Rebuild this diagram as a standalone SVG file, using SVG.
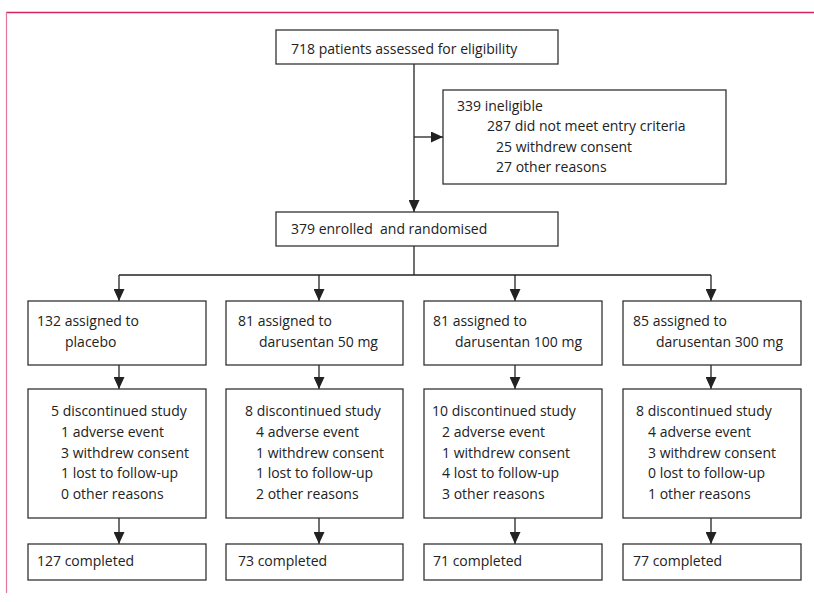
<svg xmlns="http://www.w3.org/2000/svg" width="814" height="602" viewBox="0 0 814 602">
<style>
.box{fill:#fff;stroke:#333;stroke-width:1.3}
.t{font-family:"Open Sans","Liberation Sans",sans-serif;font-size:14px;fill:#222}
.ln{fill:none;stroke:#222;stroke-width:1.3}
</style>
<defs>
<marker id="ah" viewBox="0 0 12 11" refX="12" refY="5.5" markerWidth="12" markerHeight="11" markerUnits="userSpaceOnUse" orient="auto">
<path d="M0,0 L12,5.5 L0,11 Z" fill="#222"/>
</marker>
</defs>
<rect width="814" height="602" fill="#fff"/>
<g id="frame">
<line x1="6" y1="12.5" x2="814" y2="12.5" stroke="#d0245a" stroke-width="1.5"/>
<line x1="6.5" y1="12" x2="6.5" y2="593" stroke="#e07a98" stroke-width="1.2"/>
</g>
<g id="connectors">
<line class="ln" x1="414" y1="64" x2="414" y2="212" marker-end="url(#ah)"/>
<line class="ln" x1="414" y1="137" x2="443" y2="137" marker-end="url(#ah)"/>
<polyline class="ln" points="414,246 414,275"/>
<line class="ln" x1="119" y1="275" x2="711" y2="275"/>
<line class="ln" x1="119" y1="275" x2="119" y2="301" marker-end="url(#ah)"/>
<line class="ln" x1="319" y1="275" x2="319" y2="301" marker-end="url(#ah)"/>
<line class="ln" x1="515" y1="275" x2="515" y2="301" marker-end="url(#ah)"/>
<line class="ln" x1="711" y1="275" x2="711" y2="301" marker-end="url(#ah)"/>
<line class="ln" x1="119" y1="365" x2="119" y2="389" marker-end="url(#ah)"/>
<line class="ln" x1="319" y1="365" x2="319" y2="389" marker-end="url(#ah)"/>
<line class="ln" x1="515" y1="365" x2="515" y2="389" marker-end="url(#ah)"/>
<line class="ln" x1="711" y1="365" x2="711" y2="389" marker-end="url(#ah)"/>
<line class="ln" x1="119" y1="518" x2="119" y2="544" marker-end="url(#ah)"/>
<line class="ln" x1="319" y1="518" x2="319" y2="544" marker-end="url(#ah)"/>
<line class="ln" x1="515" y1="518" x2="515" y2="544" marker-end="url(#ah)"/>
<line class="ln" x1="711" y1="518" x2="711" y2="544" marker-end="url(#ah)"/>
</g>
<g id="assessed">
<rect class="box" x="276" y="30" width="282" height="34"/>
<text class="t" x="291" y="54">718 patients assessed for eligibility</text>
</g>
<g id="ineligible">
<rect class="box" x="443" y="90" width="283" height="94"/>
<text class="t" x="457" y="111">339 ineligible</text>
<text class="t" x="487" y="131">287 did not meet entry criteria</text>
<text class="t" x="496" y="152">25 withdrew consent</text>
<text class="t" x="496" y="172">27 other reasons</text>
</g>
<g id="enrolled">
<rect class="box" x="276" y="212" width="282" height="34"/>
<text class="t" x="291" y="234" style="white-space:pre">379 enrolled  and randomised</text>
</g>
<g id="arm-placebo">
<rect class="box" x="28" y="301" width="178" height="64"/>
<text class="t" x="37" y="326">132 assigned to</text>
<text class="t" x="65" y="347">placebo</text>
</g>
<g id="arm-50">
<rect class="box" x="226" y="301" width="177" height="64"/>
<text class="t" x="238" y="326">81 assigned to</text>
<text class="t" x="259" y="347">darusentan 50 mg</text>
</g>
<g id="arm-100">
<rect class="box" x="424" y="301" width="178" height="64"/>
<text class="t" x="433" y="326">81 assigned to</text>
<text class="t" x="455" y="347">darusentan 100 mg</text>
</g>
<g id="arm-300">
<rect class="box" x="623" y="301" width="178" height="64"/>
<text class="t" x="633" y="326">85 assigned to</text>
<text class="t" x="656" y="347">darusentan 300 mg</text>
</g>
<g id="disc-placebo">
<rect class="box" x="28" y="389" width="178" height="129"/>
<text class="t" x="51" y="416">5 discontinued study</text>
<text class="t" x="61" y="437">1 adverse event</text>
<text class="t" x="61" y="458">3 withdrew consent</text>
<text class="t" x="61" y="478">1 lost to follow-up</text>
<text class="t" x="61" y="499">0 other reasons</text>
</g>
<g id="disc-50">
<rect class="box" x="226" y="389" width="177" height="129"/>
<text class="t" x="245" y="416">8 discontinued study</text>
<text class="t" x="256" y="437">4 adverse event</text>
<text class="t" x="256" y="458">1 withdrew consent</text>
<text class="t" x="256" y="478">1 lost to follow-up</text>
<text class="t" x="256" y="499">2 other reasons</text>
</g>
<g id="disc-100">
<rect class="box" x="424" y="389" width="178" height="129"/>
<text class="t" x="432" y="416">10 discontinued study</text>
<text class="t" x="442" y="437">2 adverse event</text>
<text class="t" x="442" y="458">1 withdrew consent</text>
<text class="t" x="442" y="478">4 lost to follow-up</text>
<text class="t" x="442" y="499">3 other reasons</text>
</g>
<g id="disc-300">
<rect class="box" x="623" y="389" width="178" height="129"/>
<text class="t" x="636" y="416">8 discontinued study</text>
<text class="t" x="648" y="437">4 adverse event</text>
<text class="t" x="648" y="458">3 withdrew consent</text>
<text class="t" x="648" y="478">0 lost to follow-up</text>
<text class="t" x="648" y="499">1 other reasons</text>
</g>
<g id="comp-placebo">
<rect class="box" x="28" y="544" width="178" height="36"/>
<text class="t" x="37" y="566">127 completed</text>
</g>
<g id="comp-50">
<rect class="box" x="226" y="544" width="177" height="36"/>
<text class="t" x="238" y="566">73 completed</text>
</g>
<g id="comp-100">
<rect class="box" x="424" y="544" width="178" height="36"/>
<text class="t" x="433" y="566">71 completed</text>
</g>
<g id="comp-300">
<rect class="box" x="623" y="544" width="178" height="36"/>
<text class="t" x="633" y="566">77 completed</text>
</g>
</svg>
